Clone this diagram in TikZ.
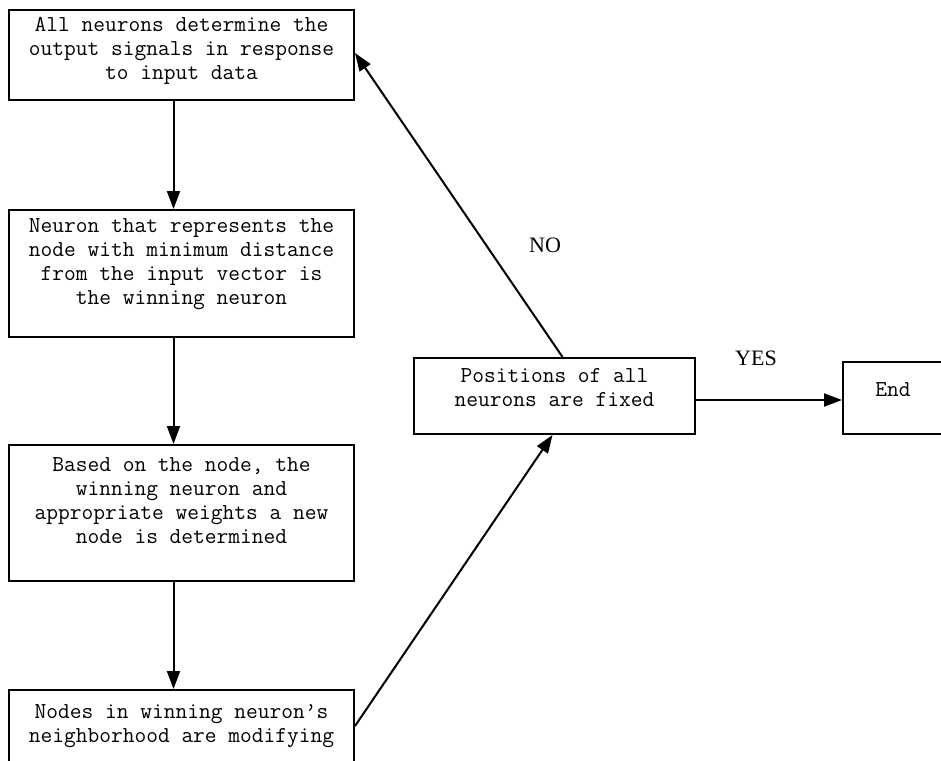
\documentclass[tikz,border=0pt]{standalone}
\usepackage{fontspec}
\setmainfont{Liberation Serif}
\usetikzlibrary{arrows.meta,positioning,calc}
\newcommand{\boxlines}[2]{\begin{tabular}{@{}c@{}}#1\\[#2]\end{tabular}}
\tikzset{
  stepbox/.style={draw=black,line width=1pt,font=\ttfamily\fontsize{11.4}{12}\selectfont,
    inner sep=0pt,minimum width=172.5pt},
  arr/.style={-{Triangle[length=9pt,width=6.5pt]},line width=1pt},
  answer/.style={font=\fontsize{11}{13}\selectfont},
}
\begin{document}
\begin{tikzpicture}[x=0.5pt,y=-0.5pt]
  \path[use as bounding box,clip] (0,0) rectangle (941,760);
  % left column
  \node[stepbox,minimum height=45pt] (outsig) at (181.5,55)
    {\boxlines{All neurons determine the\\output signals in response\\to input data}{4.5pt}};
  \node[stepbox,minimum height=63.5pt] (winner) at (181.5,273.5)
    {\boxlines{Neuron that represents the\\node with minimum distance\\from the input vector is\\the winning neuron}{9.5pt}};
  \node[stepbox,minimum height=68pt] (newnode) at (181.5,513)
    {\boxlines{Based on the node, the\\winning neuron and\\appropriate weights a new\\node is determined}{10pt}};
  \node[stepbox,minimum height=36pt] (neigh) at (181.5,726)
    {\boxlines{Nodes in winning neuron’s\\neighborhood are modifying}{0pt}};
  % check and end
  \node[stepbox,minimum width=140.5pt,minimum height=38pt] (fixed) at (554.5,396)
    {\boxlines{Positions of all\\neurons are fixed}{6pt}};
  \node[stepbox,minimum width=50pt,minimum height=36pt] (end) at (893,398)
    {\boxlines{End}{6pt}};
  \draw[arr] ([xshift=-4pt]outsig.south) -- ([xshift=-4pt]winner.north);
  \draw[arr] ([xshift=-4pt]winner.south) -- ([xshift=-4pt]newnode.north);
  \draw[arr] ([xshift=-4pt]newnode.south) -- ([xshift=-4pt]neigh.north);
  \draw[arr] (neigh.east) -- ([xshift=-1pt]fixed.south);
  \draw[arr] ([xshift=4pt]fixed.north) -- ([yshift=1pt]outsig.east);
  \draw[arr] ([yshift=-2pt]fixed.east) -- ([yshift=-1pt]end.west);
  \node[answer] (no) at (545,245) {NO};
  \node[answer] (yes) at (756,358) {YES};
\end{tikzpicture}
\end{document}
